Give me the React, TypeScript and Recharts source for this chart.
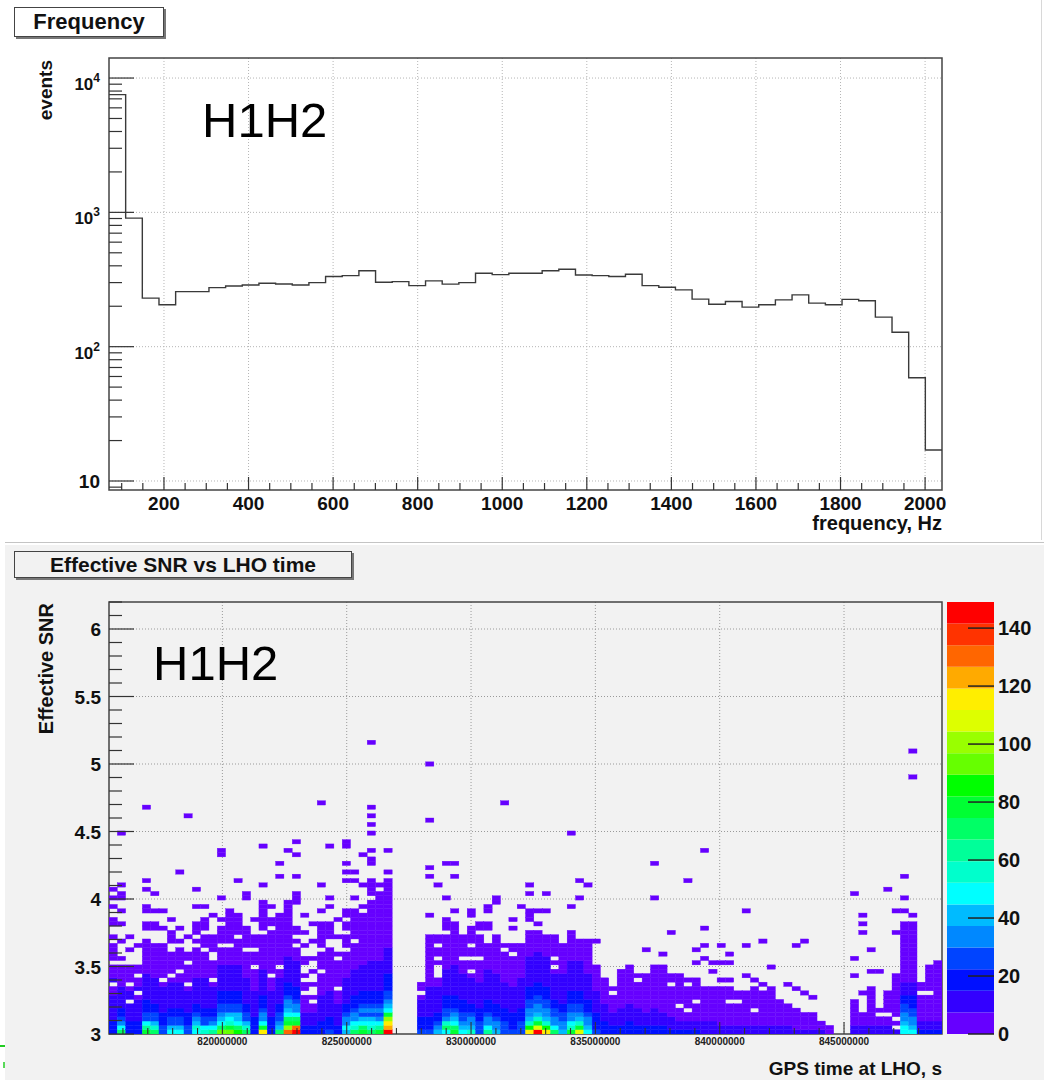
import React from 'react';
import {
  LineChart, Line, XAxis, YAxis, CartesianGrid, ReferenceArea,
  ScatterChart, Scatter, BarChart, Bar,
} from 'recharts';

const FONT = '"Liberation Sans", Arial, Helvetica, sans-serif';

// ---------------- top panel: frequency histogram ----------------
const FREQ_MIN = 70;
const FREQ_MAX = 2040;
const FREQ_BIN_WIDTH = 39.4;
const freqCounts = [
  7520, 906, 230, 205, 257, 257, 275, 283, 288, 297,
  293, 288, 300, 333, 338, 368, 302, 305, 285, 309,
  292, 300, 352, 344, 352, 352, 368, 377, 342, 338,
  333, 346, 285, 277, 265, 226, 207, 217, 197, 205,
  223, 243, 211, 205, 225, 220, 166, 128, 58.7, 17,
];
const FREQ_MAJOR = [200, 400, 600, 800, 1000, 1200, 1400, 1600, 1800, 2000];
const FREQ_MINOR = [100, 150, 250, 300, 350, 450, 500, 550, 650, 700, 750, 850, 900, 950,
  1050, 1100, 1150, 1250, 1300, 1350, 1450, 1500, 1550, 1650, 1700, 1750, 1850, 1900, 1950];
const EVENTS_MAJOR = [10, 100, 1000, 10000];
const EVENTS_MINOR = [9, 20, 30, 40, 50, 60, 70, 80, 90, 200, 300, 400, 500, 600, 700, 800, 900,
  2000, 3000, 4000, 5000, 6000, 7000, 8000, 9000];
const EVENTS_DOMAIN = [8.57, 14100];

const freqData = freqCounts.map((c, i) => ({ f: FREQ_MIN + i * FREQ_BIN_WIDTH, c }));
freqData.push({ f: FREQ_MAX, c: freqCounts[freqCounts.length - 1] });

// ---------------- bottom panel: effective SNR vs time ----------------
const GPS_MIN = 815.44e6;
const GPS_BIN = 0.335e6;
const NX = 100;
const GPS_MAX = GPS_MIN + NX * GPS_BIN;
const SNR_MIN = 3;
const SNR_BIN = 0.032;
const NY = 100;
const SNR_MAX = SNR_MIN + NY * SNR_BIN;
const GPS_MAJOR = [820e6, 825e6, 830e6, 835e6, 840e6, 845e6];
const GPS_MINOR = [816e6, 817e6, 818e6, 819e6, 821e6, 822e6, 823e6, 824e6, 826e6, 827e6, 828e6, 829e6,
  831e6, 832e6, 833e6, 834e6, 836e6, 837e6, 838e6, 839e6, 841e6, 842e6, 843e6, 844e6, 846e6, 847e6, 848e6];
const SNR_MAJOR = [3, 3.5, 4, 4.5, 5, 5.5, 6];
const SNR_MINOR = [3.1, 3.2, 3.3, 3.4, 3.6, 3.7, 3.8, 3.9, 4.1, 4.2, 4.3, 4.4, 4.6, 4.7, 4.8, 4.9,
  5.1, 5.2, 5.3, 5.4, 5.6, 5.7, 5.8, 5.9, 6.1, 6.2];

// colour levels (0..19) of each column, rows from SNR=3 upwards ('.' = empty)
const COLS: string[] = [
  /* 0 */ "22211111100.1000.0000.0..00..0.0",
  /* 1 */ "9643221111100000" + ".0...0...0..0..00.0",
  /* 2 */ "2221111.110.0000",
  /* 3 */ "222111110.100.00",
  /* 4 */ "a863322211111" + "10000000" + "0..00..00",
  /* 5 */ "9753" + "3221111110000000" + "0...00",
  /* 6 */ "332" + "221111110.00000000" + "...0",
  /* 7 */ "653" + "3221111110.00000" + ".." + "000",
  /* 8 */ "653" + "32211111100.00000" + ".0",
  /* 9 */ "332" + "22111110.0000" + ".00",
  /* 10 */ "675" + "43221111110000000" + ".0.000",
  /* 11 */ "763" + "3221111111000000" + ".000.000",
  /* 12 */ "864" + "322111110" + ".0000..0000",
  /* 13 */ "c96543" + "32221111110000" + ".0000.0",
  /* 14 */ "ca7653" + "3222111111000" + "0.00000000",
  /* 15 */ "b96553" + "322211111100000" + "0.00000",
  /* 16 */ "9753" + "322111111000000" + ".00000",
  /* 17 */ "22" + "2211111100000" + ".000.000",
  /* 18 */ "fa64" + "4322211111100000000" + ".0000000",
  /* 19 */ "22" + "22111111000" + ".0000000000.00",
  /* 20 */ "95" + "4332211111100" + ".000000000000",
  /* 21 */ "hda965" + "4432221111110000000000" + "000",
  /* 22 */ "jha964" + "4322211111100" + "0.0.00",
  /* 23 */ "221110000.00.0..00",
  /* 24 */ "2211100.0..0..0..0",
  /* 25 */ "22" + "211111100000" + ".0000.000000",
  /* 26 */ "32" + "221111110000000000" + "..0000",
  /* 27 */ "2" + "211111000" + ".000000.0",
  /* 28 */ "564" + "4322111111000000" + ".000.00.00",
  /* 29 */ "9764" + "4322211111100000" + "0.0000000",
  /* 30 */ "a9653" + "43222111111000000000" + "000",
  /* 31 */ "97653" + "4322211111110000000000000" + "0.0000",
  /* 32 */ "a8643" + "43222111111100000000000000" + "00.0",
  /* 33 */ "jgfda65433" + "222211111100000000000" + "00000",
  /* 34 */ "",
  /* 35 */ "",
  /* 36 */ "",
  /* 37 */ "322211110.00",
  /* 38 */ "32" + "221111111000000000000",
  /* 39 */ "54" + "32211111100" + "...0.00.00",
  /* 40 */ "69743" + "322211111100000000" + ".000",
  /* 41 */ "a965" + "43222111111100000000" + "00",
  /* 42 */ "654" + "3322211111100" + "0.00000",
  /* 43 */ "75" + "44322111111" + "0.00.00.0000",
  /* 44 */ "3" + "3322211111100000" + ".00000.00",
  /* 45 */ "86" + "4432221111111000000" + "...00",
  /* 46 */ "5" + "4432221111111000000000",
  /* 47 */ "3" + "332221111110000000" + ".0",
  /* 48 */ "3" + "22221111110000000" + ".00",
  /* 49 */ "3" + "33222111111100000000",
  /* 50 */ "fb754" + "4332221111111000000",
  /* 51 */ "jea754" + "433222111111100000",
  /* 52 */ "fb754" + "43322211111110000" + "0",
  /* 53 */ "964" + "433221111110" + ".0.00000",
  /* 54 */ "54" + "4332211111110000000",
  /* 55 */ "a764" + "4332221111111000000" + "0",
  /* 56 */ "ea75" + "43322211111110000" + "0",
  /* 57 */ "65" + "4432221111110000000" + "0",
  /* 58 */ "32" + "2221111100000" + "0",
  /* 59 */ "22" + "2111100000" + "0",
  /* 60 */ "22" + "1110000" + ".0",
  /* 61 */ "22" + "11110000000" + "00",
  /* 62 */ "22" + "2111100000000" + "0",
  /* 63 */ "22" + "1111000000" + ".0",
  /* 64 */ "22" + "11100000000" + "0",
  /* 65 */ "22" + "111100000000" + "00",
  /* 66 */ "2211100000000000",
  /* 67 */ "21" + "11000000" + "0.00",
  /* 68 */ "21" + "1000" + ".000000" + "0",
  /* 69 */ "21" + "100" + ".00000.0",
  /* 70 */ "21" + "10000" + ".00000",
  /* 71 */ "11" + "100000000",
  /* 72 */ "11" + "100000000",
  /* 73 */ "11" + "000000000",
  /* 74 */ "11" + "00000" + ".000",
  /* 75 */ "11" + "00000" + ".00",
  /* 76 */ "11" + "00000000",
  /* 77 */ "11" + "000" + ".00000",
  /* 78 */ "11" + "00000000",
  /* 79 */ "11" + "00000000",
  /* 80 */ "11" + "000000",
  /* 81 */ "11" + "00000",
  /* 82 */ "10" + "0000",
  /* 83 */ "10" + "000",
  /* 84 */ "10" + "000",
  /* 85 */ "100",
  /* 86 */ "00",
  /* 87 */ "",
  /* 88 */ "",
  /* 89 */ "11" + "000000",
  /* 90 */ "11" + "000",
  /* 91 */ "11" + "000000000",
  /* 92 */ "11" + "00.0",
  /* 93 */ "11" + "00.00000",
  /* 94 */ "1.0.0000000000",
  /* 95 */ "66544332" + "211100000000000000",
  /* 96 */ "65443322" + "211100000000000000",
  /* 97 */ "21" + "1000000" + ".00",
  /* 98 */ "21" + "1000000" + ".00000",
  /* 99 */ "21" + "10000000000000",
];

// isolated low-count cells [column, row]
const SPARSE: [number, number][] = [
  [0, 33], [1, 46], [2, 19], [2, 22], [3, 20], [4, 33], [4, 35], [4, 52], [5, 28], [5, 32],
  [6, 28], [7, 26], [8, 24], [8, 37], [9, 22], [9, 50], [10, 29], [10, 33], [11, 29], [12, 27],
  [13, 31], [13, 41], [13, 42], [15, 35], [16, 31], [16, 32], [17, 26], [18, 34], [18, 43], [19, 29],
  [20, 36], [20, 39], [21, 42], [22, 30], [22, 31], [22, 32], [22, 36], [22, 41], [22, 44],
  [23, 20], [23, 23], [23, 27], [24, 21], [24, 25], [25, 28], [25, 34], [25, 53],
  [26, 29], [26, 31], [26, 43], [27, 22], [27, 26], [28, 35], [28, 37], [28, 39], [28, 43], [28, 44],
  [29, 31], [29, 35], [29, 37], [30, 29], [30, 34], [30, 41],
  [31, 39], [31, 40], [31, 42], [31, 46], [31, 48], [31, 50], [31, 52], [31, 67], [33, 37], [33, 42],
  [38, 27], [38, 36], [38, 38], [38, 49], [38, 62], [39, 34], [40, 31], [40, 39], [41, 28], [41, 36],
  [41, 39], [43, 27], [43, 28], [45, 28], [45, 29], [46, 30], [46, 31], [47, 53], [48, 24], [48, 26],
  [49, 29], [50, 26], [50, 27], [50, 28], [50, 32], [50, 34], [51, 25], [51, 28], [52, 28], [52, 32],
  [55, 29], [55, 46], [56, 31], [56, 35], [57, 34], [58, 21], [64, 19], [65, 31], [65, 39],
  [66, 18], [67, 23], [69, 35], [70, 16], [70, 19], [71, 17], [71, 20], [71, 24], [71, 42],
  [72, 14], [72, 16], [73, 12], [73, 16], [73, 20], [74, 12], [74, 16], [74, 18], [76, 13], [76, 20],
  [76, 28], [77, 12], [78, 11], [78, 21], [79, 10], [79, 15], [81, 11], [82, 10], [82, 20], [83, 9],
  [83, 21], [84, 8], [89, 13], [89, 17], [89, 32], [90, 9], [90, 23], [90, 25], [90, 27], [91, 14],
  [91, 19], [92, 14], [93, 33], [94, 23], [94, 28], [95, 28], [95, 31], [95, 36], [96, 27], [96, 59],
  [96, 65], [98, 15], [99, 16],
];

// colour palette, one colour per contour level (bottom → top)
const PALETTE = [
  '#6600ff', '#3300ff', '#0010ff', '#0044ff', '#0088ff', '#00bbff', '#00ffff', '#00ffcc',
  '#00ff99', '#00ff66', '#00ff33', '#00ff00', '#66ff00', '#99ff00', '#ddff00', '#ffee00',
  '#ffaa00', '#ff6600', '#ff3300', '#ff0000',
];
const Z_MAX = 149;
const Z_TICKS = [0, 20, 40, 60, 80, 100, 120, 140];

type Cell = { x: number; y: number; lvl: number };
const cells: Cell[] = [];
COLS.forEach((s, i) => {
  for (let j = 0; j < s.length; j++) {
    const ch = s[j];
    if (ch === '.') continue;
    cells.push({ x: GPS_MIN + (i + 0.5) * GPS_BIN, y: SNR_MIN + (j + 0.5) * SNR_BIN, lvl: parseInt(ch, 20) });
  }
});
SPARSE.forEach(([i, j]) => {
  cells.push({ x: GPS_MIN + (i + 0.5) * GPS_BIN, y: SNR_MIN + (j + 0.5) * SNR_BIN, lvl: 0 });
});

const bandRow: Record<string, any> = { name: 'z' };
PALETTE.forEach((_, k) => { bandRow['b' + k] = Z_MAX / PALETTE.length; });
const bandData = [bandRow];

// ---------------- layout ----------------
const CHART_W = 1044;
const CHART_H = 540;
const Y_AXIS_W = 60;
const X_AXIS_H = 30;
const TOP_MARGIN = { top: 58, right: 102, bottom: 20, left: 49 };
const BOT_MARGIN = { top: 62, right: 102, bottom: 16, left: 49 };
const BOT_PLOT_W = CHART_W - BOT_MARGIN.left - BOT_MARGIN.right - Y_AXIS_W;
const BOT_PLOT_H = CHART_H - BOT_MARGIN.top - BOT_MARGIN.bottom - X_AXIS_H;
const CELL_W = BOT_PLOT_W / NX;
const CELL_H = BOT_PLOT_H / NY;

const TICK_COLOR = '#333';

// ---------------- tick renderers ----------------
const FreqTick = (props: any) => {
  const { x, y, payload } = props;
  const v = payload.value;
  const major = FREQ_MAJOR.includes(v);
  return (
    <g>
      <line x1={x} x2={x} y1={y} y2={y - (major ? 13 : 7)} stroke={TICK_COLOR} strokeWidth={1.2} />
      {major && (
        <text x={x} y={y + 20} textAnchor="middle" fontFamily={FONT} fontWeight="bold" fontSize={19} fill="#111">{v}</text>
      )}
    </g>
  );
};

const EventsTick = (props: any) => {
  const { x, y, payload } = props;
  const v = payload.value;
  const major = EVENTS_MAJOR.includes(v);
  const exp = Math.round(Math.log10(v));
  return (
    <g>
      <line x1={x} x2={x + (major ? 25 : 13)} y1={y} y2={y} stroke={TICK_COLOR} strokeWidth={1.2} />
      {major && exp === 1 && (
        <text x={x - 9} y={y + 7} textAnchor="end" fontFamily={FONT} fontWeight="bold" fontSize={19} fill="#111">10</text>
      )}
      {major && exp > 1 && (
        <text x={x - 9} y={y + 12} textAnchor="end" fontFamily={FONT} fontWeight="bold" fontSize={17} fill="#111">
          10<tspan dy={-8} fontSize={12}>{exp}</tspan>
        </text>
      )}
    </g>
  );
};

const SnrTick = (props: any) => {
  const { x, y, payload } = props;
  const v = payload.value;
  const major = SNR_MAJOR.includes(v);
  return (
    <g>
      <line x1={x} x2={x + (major ? 25 : 13)} y1={y} y2={y} stroke={TICK_COLOR} strokeWidth={1.2} />
      {major && (
        <text x={x - 8} y={y + 7} textAnchor="end" fontFamily={FONT} fontWeight="bold" fontSize={19} fill="#111">{v}</text>
      )}
    </g>
  );
};

const GpsTick = (props: any) => {
  const { x, y, payload } = props;
  const v = payload.value;
  const major = GPS_MAJOR.includes(v);
  return (
    <g>
      <line x1={x} x2={x} y1={y} y2={y - (major ? 12 : 6)} stroke={TICK_COLOR} strokeWidth={1.1} />
      {major && (
        <text x={x} y={y + 11} textAnchor="middle" fontFamily={FONT} fontWeight="bold" fontSize={10} fill="#222">{String(v)}</text>
      )}
    </g>
  );
};

const ZTick = (props: any) => {
  const { x, y, payload } = props;
  return (
    <g>
      <line x1={x - 26} x2={x} y1={y} y2={y} stroke="#222" strokeWidth={1.5} />
      <text x={x + 4} y={y + 7} textAnchor="start" fontFamily={FONT} fontWeight="bold" fontSize={20} fill="#111">{payload.value}</text>
    </g>
  );
};

// gridline generators through the axis scales
const gridX = (values: number[], dom: number[]) => (args: any) => {
  const ax = args && args.xAxis;
  if (ax && typeof ax.scale === 'function') return values.map((v) => ax.scale(v));
  const o = args.offset;
  return values.map((v) => o.left + ((v - dom[0]) / (dom[1] - dom[0])) * o.width);
};
const gridY = (values: number[], dom: number[], log: boolean) => (args: any) => {
  const ax = args && args.yAxis;
  if (ax && typeof ax.scale === 'function') return values.map((v) => ax.scale(v));
  const o = args.offset;
  const t = (v: number) => (log ? Math.log10(v) : v);
  return values.map((v) => o.top + ((t(dom[1]) - t(v)) / (t(dom[1]) - t(dom[0]))) * o.height);
};

const CellShape = (props: any) => {
  const { cx, cy, payload } = props;
  const c = PALETTE[payload.lvl] || PALETTE[0];
  return <rect x={cx - CELL_W / 2} y={cy - CELL_H / 2} width={CELL_W} height={CELL_H} fill={c} stroke={c} strokeWidth={0.35} />;
};

const TitleBox = ({ left, top, width, height, text, fontSize, bg }: any) => (
  <div
    style={{
      position: 'absolute', left, top, width, height, boxSizing: 'border-box',
      border: '1px solid #444', boxShadow: '2px 2px 0 #777', background: bg,
      fontFamily: FONT, fontWeight: 'bold', fontSize, color: '#111',
      display: 'flex', alignItems: 'center', justifyContent: 'center', lineHeight: 1,
    }}
  >
    {text}
  </div>
);

export default function App() {
  return (
    <div style={{ position: 'absolute', left: 0, top: 0, width: 1044, height: 1080, background: '#fff', overflow: 'hidden' }}>
      {/* bottom panel background */}
      <div style={{ position: 'absolute', left: 5, top: 542, width: 1039, height: 1, background: '#c4c4c4' }} />
      <div style={{ position: 'absolute', left: 5, top: 545, width: 1039, height: 535, background: '#f2f2f2' }} />
      <div style={{ position: 'absolute', left: 1041, top: 0, width: 1, height: 540, background: '#d8d8d8' }} />

      {/* top chart */}
      <div style={{ position: 'absolute', left: 0, top: 0 }}>
        <LineChart width={CHART_W} height={CHART_H} data={freqData} margin={TOP_MARGIN}>
          <CartesianGrid
            stroke="#b5b5b5"
            strokeDasharray="1 2"
            verticalCoordinatesGenerator={gridX(FREQ_MAJOR, [FREQ_MIN, FREQ_MAX])}
            horizontalCoordinatesGenerator={gridY(EVENTS_MAJOR, EVENTS_DOMAIN, true)}
          />
          <Line
            dataKey="c"
            type="stepAfter"
            stroke="#3a3a3a"
            strokeWidth={1.4}
            dot={false}
            isAnimationActive={false}
          />
          <ReferenceArea x1={FREQ_MIN} x2={FREQ_MAX} y1={EVENTS_DOMAIN[0]} y2={EVENTS_DOMAIN[1]}
            fill="none" fillOpacity={0} stroke="#444" strokeWidth={1.5} ifOverflow="visible" />
          <XAxis
            dataKey="f" type="number" domain={[FREQ_MIN, FREQ_MAX]} allowDataOverflow
            ticks={[...FREQ_MAJOR, ...FREQ_MINOR].sort((a, b) => a - b)} interval={0}
            tick={FreqTick} tickLine={false} axisLine={false} tickSize={0} tickMargin={0} height={X_AXIS_H}
          />
          <YAxis
            type="number" scale="log" domain={EVENTS_DOMAIN} allowDataOverflow
            ticks={[...EVENTS_MAJOR, ...EVENTS_MINOR].sort((a, b) => a - b)} interval={0}
            tick={EventsTick} tickLine={false} axisLine={false} tickSize={0} tickMargin={0} width={Y_AXIS_W}
          />
        </LineChart>
      </div>

      {/* bottom chart */}
      <div style={{ position: 'absolute', left: 0, top: 540 }}>
        <ScatterChart width={CHART_W} height={CHART_H} margin={BOT_MARGIN}>
          <CartesianGrid
            stroke="#9a9a9a"
            strokeDasharray="1 2"
            verticalCoordinatesGenerator={gridX(GPS_MAJOR, [GPS_MIN, GPS_MAX])}
            horizontalCoordinatesGenerator={gridY(SNR_MAJOR.slice(1), [SNR_MIN, SNR_MAX], false)}
          />
          <Scatter data={cells} shape={CellShape} isAnimationActive={false} />
          <ReferenceArea x1={GPS_MIN} x2={GPS_MAX} y1={SNR_MIN} y2={SNR_MAX}
            fill="none" fillOpacity={0} stroke="#444" strokeWidth={1.5} ifOverflow="visible" />
          <XAxis
            dataKey="x" type="number" domain={[GPS_MIN, GPS_MAX]} allowDataOverflow
            ticks={[...GPS_MAJOR, ...GPS_MINOR].sort((a, b) => a - b)} interval={0}
            tick={GpsTick} tickLine={false} axisLine={false} tickSize={0} tickMargin={0} height={X_AXIS_H}
          />
          <YAxis
            dataKey="y" type="number" domain={[SNR_MIN, SNR_MAX]} allowDataOverflow
            ticks={[...SNR_MAJOR, ...SNR_MINOR].sort((a, b) => a - b)} interval={0}
            tick={SnrTick} tickLine={false} axisLine={false} tickSize={0} tickMargin={0} width={Y_AXIS_W}
          />
        </ScatterChart>
      </div>

      {/* colour scale */}
      <div style={{ position: 'absolute', left: 900, top: 540 }}>
        <BarChart width={144} height={540} data={bandData} margin={{ top: 62, right: 10, bottom: 46, left: 47 }}
          barCategoryGap={0} barGap={0}>
          <XAxis dataKey="name" hide />
          {PALETTE.map((c, k) => (
            <Bar key={k} dataKey={'b' + k} stackId="z" fill={c} isAnimationActive={false} />
          ))}
          <YAxis
            orientation="right" type="number" domain={[0, Z_MAX]} allowDataOverflow
            ticks={Z_TICKS} interval={0} tick={ZTick} tickLine={false} axisLine={false}
            tickSize={0} tickMargin={0} width={40}
          />
        </BarChart>
      </div>

      {/* title boxes */}
      <TitleBox left={14} top={7} width={150} height={30} text="Frequency" fontSize={22} bg="#fff" />
      <TitleBox left={14} top={551} width={338} height={27} text="Effective SNR vs LHO time" fontSize={21} bg="#f2f2f2" />

      {/* text overlay */}
      <svg width={1044} height={1080} style={{ position: 'absolute', left: 0, top: 0, pointerEvents: 'none' }}>
        <text x={202} y={137} fontFamily={FONT} fontSize={49} fill="#000">H1H2</text>
        <text x={153} y={680} fontFamily={FONT} fontSize={49} fill="#000">H1H2</text>
        <text transform="translate(52,60) rotate(-90)" textAnchor="end" fontFamily={FONT} fontWeight="bold" fontSize={19} fill="#111">events</text>
        <text transform="translate(53,603) rotate(-90)" textAnchor="end" fontFamily={FONT} fontWeight="bold" fontSize={20} fill="#111">Effective SNR</text>
        <text x={942} y={530} textAnchor="end" fontFamily={FONT} fontWeight="bold" fontSize={20} fill="#111">frequency, Hz</text>
        <text x={942} y={1075} textAnchor="end" fontFamily={FONT} fontWeight="bold" fontSize={19} fill="#111">GPS time at LHO, s</text>
        <line x1={0} x2={5} y1={1046} y2={1046} stroke="#22cc22" strokeWidth={2} />
        <line x1={4} x2={4} y1={1062} y2={1068} stroke="#22cc22" strokeWidth={1.5} />
      </svg>
    </div>
  );
}
